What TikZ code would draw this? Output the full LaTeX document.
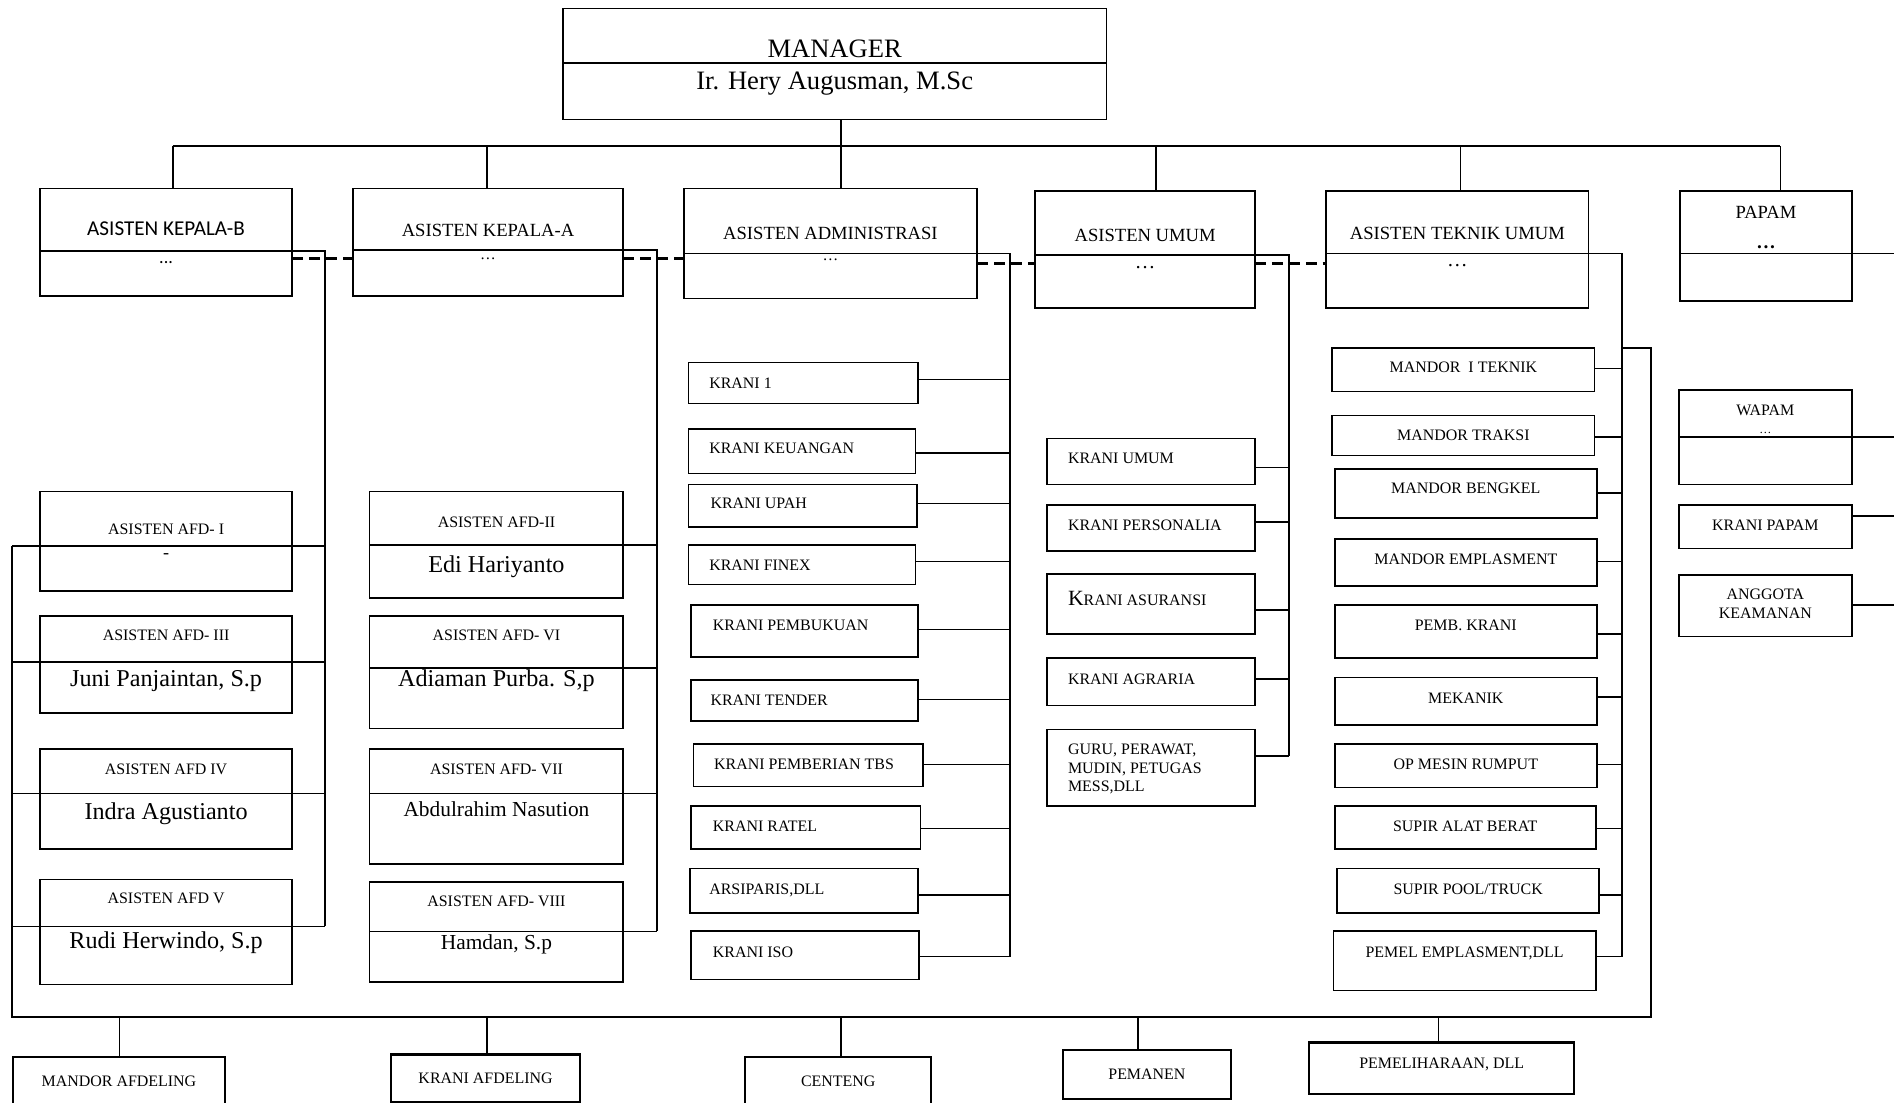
\documentclass[tikz,border=0pt]{standalone}
\usepackage{fontspec}
\setmainfont{Liberation Serif}
\newfontfamily\carlito{Carlito}
\usetikzlibrary{fit}
\newcommand\myfs[1]{\fontsize{#1pt}{#1pt}\selectfont}
\newcommand\mybox[5]{\node[box, fit={(#2,#3)(#4,#5)}] (#1) {};}
\begin{document}
\begin{tikzpicture}[x=1pt,y=-1pt,
 box/.style={draw, line width=1.4pt, inner sep=0pt, outer sep=0pt},
 bbox/.style={box, line width=1.8pt},
 ln/.style={line width=1.3pt},
 dsh/.style={line width=2.6pt, dash pattern=on 9pt off 5pt},
 lb/.style={font=\myfs{#1}, inner sep=0pt, text height={0.66*#1pt}, text depth=0pt},
 lbc/.style={font=\carlito\myfs{#1}, inner sep=0pt, text height={0.64*#1pt}, text depth=0pt},
 dt/.style={font=\myfs{#1}, inner sep=0pt, anchor=base},
]
\useasboundingbox (0,0) rectangle (1568,913);
\fill[white] (0,0) rectangle (1568,913);

% ---------- boxes ----------
\mybox{mgr}{466}{7}{916}{99}
\mybox{akb}{33}{156}{242}{245}
\mybox{aka}{292}{156}{516}{245}
\mybox{adm}{566}{156}{809}{247}
\mybox{aum}{857}{158}{1039}{255}
\mybox{atu}{1098}{158}{1315}{255}
\mybox{pap}{1391}{158}{1533}{249}

\mybox{afd1}{33}{407}{242}{489}
\mybox{afd3}{33}{510}{242}{590}
\mybox{afd4}{33}{620}{242}{703}
\mybox{afd5}{33}{728}{242}{815}
\mybox{afd2}{306}{407}{516}{495}
\mybox{afd6}{306}{510}{516}{603}
\mybox{afd7}{306}{620}{516}{715}
\mybox{afd8}{306}{730}{516}{813}

\mybox{k1}{570}{300}{760}{334}
\mybox{k2}{570}{355}{758}{392}
\mybox{k3}{570}{401}{759}{436}
\mybox{k4}{570}{451}{758}{484}
\mybox{k5}{572}{501}{760}{544}
\mybox{k6}{572}{563}{760}{597}
\mybox{k7}{574}{616}{764}{651}
\mybox{k8}{572}{667}{762}{703}
\mybox{k9}{571}{719}{760}{756}
\mybox{k10}{572}{771}{761}{811}

\mybox{u1}{867}{363}{1039}{401}
\mybox{u2}{867}{418}{1039}{456}
\mybox{u3}{867}{475}{1039}{525}
\mybox{u4}{867}{545}{1039}{584}
\mybox{u5}{867}{604}{1039}{667}

\mybox{m1}{1103}{288}{1320}{324}
\mybox{m2}{1103}{344}{1320}{377}
\mybox{m3}{1105}{388}{1322}{429}
\mybox{m4}{1105}{446}{1322}{485}
\mybox{m5}{1105}{501}{1322}{545}
\mybox{m6}{1105}{561}{1322}{600}
\mybox{m7}{1105}{616}{1322}{652}
\mybox{m8}{1105}{667}{1321}{703}
\mybox{m9}{1107}{719}{1324}{756}
\mybox{m10}{1104}{771}{1321}{820}

\mybox{wap}{1390}{323}{1533}{401}
\mybox{kpp}{1390}{418}{1533}{454}
\mybox{ang}{1390}{476}{1533}{527}

\node[bbox, fit={(11,875)(186,922)}] (b1) {};
\node[bbox, fit={(324,873)(480,912)}] (b2) {};
\node[bbox, fit={(617,875)(771,922)}] (b3) {};
\node[bbox, fit={(880,869)(1019,910)}] (b4) {};
\node[bbox, fit={(1084,863)(1303,906)}] (b5) {};

% ---------- top bus ----------
\coordinate (t1) at (143,121);
\coordinate (t2) at (403,121);
\coordinate (t3) at (696,121);
\coordinate (t4) at (957,121);
\coordinate (t5) at (1209,121);
\coordinate (t6) at (1474,121);
\draw[ln] (mgr.west |- 0,52) -- (mgr.east |- 0,52);
\draw[ln] (t3 |- mgr.south) -- (t3);
\draw[ln] (t1) -- (t6);
\foreach \t/\b in {t1/akb,t2/aka,t3/adm,t4/aum,t5/atu,t6/pap}
  \draw[ln] (\t) -- (\t |- \b.north);

% ---------- spines ----------
\coordinate (sB) at (269,208);
\coordinate (sA) at (544,207);
\coordinate (sD) at (836,210);
\coordinate (sU) at (1067,211);
\coordinate (sT) at (1343,210);
\coordinate (sP) at (1568,210);
\coordinate (sL) at (10,452);
\coordinate (sR) at (1367,288);

\draw[ln] (akb.west |- sB) -- (sB) -- (sB |- 0,767);
\draw[ln] (aka.west |- sA) -- (sA) -- (sA |- 0,771);
\draw[ln] (adm.west |- sD) -- (sD) -- (sD |- 0,792);
\draw[ln] (aum.west |- sU) -- (sU) -- (sU |- 0,626);
\draw[ln] (atu.west |- sT) -- (sT) -- (sT |- 0,792);
\draw[ln] (pap.west |- sP) -- (sP);

% dashed links
\draw[dsh] (akb.east |- 0,214) -- (aka.west |- 0,214);
\draw[dsh] (aka.east |- 0,214) -- (adm.west |- 0,214);
\draw[dsh] (adm.east |- 0,218) -- (aum.west |- 0,218);
\draw[dsh] (aum.east |- 0,218) -- (atu.west |- 0,218);

% left AFD column
\draw[ln] (sL) -- (sB |- sL);
\draw[ln] (sL |- 0,548) -- (sB |- 0,548);
\draw[ln] (sL |- 0,657) -- (sB |- 0,657);
\draw[ln] (sL |- 0,767) -- (sB |- 0,767);
% right AFD column
\draw[ln] (afd2.west |- 0,451) -- (sA |- 0,451);
\draw[ln] (afd6.west |- 0,553) -- (sA |- 0,553);
\draw[ln] (afd7.west |- 0,657) -- (sA |- 0,657);
\draw[ln] (afd8.west |- 0,771) -- (sA |- 0,771);

% admin kranis
\foreach \n/\y in {k1/314,k2/375,k3/417,k4/465,k5/521,k6/579,k7/633,k8/686,k9/741,k10/792}
  \draw[ln] (\n.east |- 0,\y) -- (sD |- 0,\y);
% umum
\foreach \n/\y in {u1/387,u2/432,u3/505,u4/562,u5/626}
  \draw[ln] (\n.east |- 0,\y) -- (sU |- 0,\y);
% teknik
\foreach \n/\y in {m1/305,m2/362,m3/408,m4/465,m5/525,m6/577,m7/633,m8/686,m9/741,m10/792}
  \draw[ln] (\n.east |- 0,\y) -- (sT |- 0,\y);
% papam
\draw[ln] (wap.west |- 0,362) -- (sP |- 0,362);
\draw[ln] (kpp.east |- 0,427) -- (sP |- 0,427);
\draw[ln] (ang.east |- 0,501) -- (sP |- 0,501);

% bottom bus
\draw[ln] (sT |- sR) -- (sR) -- (sR |- 0,842) -- (sL |- 0,842) -- (sL);
\foreach \x/\b in {99/b1,403/b2,696/b3,942/b4,1191/b5}
  \draw[ln] (\x,842) -- (\x,0 |- \b.north);

% ---------- texts ----------
\node[lb=22] at (mgr.center |- 0,40.5) {MANAGER};
\node[lb=22] at (mgr.center |- 0,67) {Ir. Hery Augusman, M.Sc};

\node[lbc=17.5] at (akb.center |- 0,189) {ASISTEN KEPALA-B};
\node[font=\carlito\myfs{15}, inner sep=0pt, anchor=base] at (akb.center |- 0,218) {...};
\node[lb=15.4] at (aka.center |- 0,191) {ASISTEN KEPALA-A};
\node[dt=13] at (aka.center |- 0,215) {…};
\node[lb=15.4] at (adm.center |- 0,193) {ASISTEN ADMINISTRASI};
\node[dt=13] at (adm.center |- 0,216) {…};
\node[lb=15.4] at (aum.center |- 0,195) {ASISTEN UMUM};
\node[dt=17] at (aum.center |- 0,222) {…};
\node[lb=15.4] at (atu.center |- 0,193) {ASISTEN TEKNIK UMUM};
\node[dt=17] at (atu.center |- 0,221) {…};
\node[lb=15.4] at (pap.center |- 0,176) {PAPAM};
\node[inner sep=0pt, anchor=base, font={\myfs{16}\bfseries}] at (pap.center |- 0,206) {…};

\node[lb=13.2] at (afd1.center |- 0,438) {ASISTEN AFD- I};
\node[dt=15] at (afd1.center |- 0,462) {-};
\node[lb=13.2] at (afd3.center |- 0,526) {ASISTEN AFD- III};
\node[lb=20] at (afd3.center |- 0,562) {Juni Panjaintan, S.p};
\node[lb=13.2] at (afd4.center |- 0,637) {ASISTEN AFD IV};
\node[lb=20] at (afd4.center |- 0,672) {Indra Agustianto};
\node[lb=13.2] at (afd5.center |- 0,744) {ASISTEN AFD V};
\node[lb=20] at (afd5.center |- 0,779) {Rudi Herwindo, S.p};

\node[lb=13.2] at (afd2.center |- 0,432) {ASISTEN AFD-II};
\node[lb=20] at (afd2.center |- 0,467) {Edi Hariyanto};
\node[lb=13.2] at (afd6.center |- 0,526) {ASISTEN AFD- VI};
\node[lb=20] at (afd6.center |- 0,562) {Adiaman Purba. S,p};
\node[lb=13.2] at (afd7.center |- 0,637) {ASISTEN AFD- VII};
\node[lb=17.7] at (afd7.center |- 0,670) {Abdulrahim Nasution};
\node[lb=13.2] at (afd8.center |- 0,746) {ASISTEN AFD- VIII};
\node[lb=17.7] at (afd8.center |- 0,780) {Hamdan, S.p};

\foreach \n/\x/\y/\s in {k1/587/317/KRANI 1,k2/587/371/KRANI KEUANGAN,k3/588/417/KRANI UPAH,
  k4/587/468/KRANI FINEX,k5/590/518/KRANI PEMBUKUAN,k6/588/580/KRANI TENDER,
  k7/591/633/KRANI PEMBERIAN TBS,k8/590/684/KRANI RATEL,k9/587/736/{ARSIPARIS,DLL},k10/590/788/KRANI ISO}
  \node[lb=13.2, anchor=west] at (\x,\y) {\s};

\node[lb=13.2, anchor=west] at (884,379) {KRANI UMUM};
\node[lb=13.2, anchor=west] at (884,435) {KRANI PERSONALIA};
\node[lb=13.2, anchor=west] at (884,497) {{\myfs{18}K}RANI ASURANSI};
\node[lb=13.2, anchor=west] at (884,562) {KRANI AGRARIA};
\node[font=\fontsize{13.2pt}{15.5pt}\selectfont, inner sep=0pt, anchor=north west, align=left]
  at (884,615.6) {GURU, PERAWAT,\\MUDIN, PETUGAS\\MESS,DLL};

\foreach \n/\y/\s in {m1/304/{MANDOR\ \ I TEKNIK},m2/360/MANDOR TRAKSI,m3/404/MANDOR BENGKEL,
  m4/463/MANDOR EMPLASMENT,m5/518/PEMB. KRANI,m6/578/MEKANIK,m7/633/OP MESIN RUMPUT,
  m8/684/SUPIR ALAT BERAT,m10/788/{PEMEL EMPLASMENT,DLL}}
  \node[lb=13.2] at (\n.center |- 0,\y) {\s};
\node[lb=13.2] at (m9.center |- 0,736) {SUPIR POOL/TRUCK};

\node[lb=13.2] at (wap.center |- 0,340) {WAPAM};
\node[dt=10] at (wap.center |- 0,359) {…};
\node[lb=13.2] at (kpp.center |- 0,435) {KRANI PAPAM};
\node[lb=13.2] at (ang.center |- 0,492) {ANGGOTA};
\node[lb=13.2] at (ang.center |- 0,508) {KEAMANAN};

\node[lb=13.2] at (b1.center |- 0,895) {MANDOR AFDELING};
\node[lb=13.2] at (b2.center |- 0,893) {KRANI AFDELING};
\node[lb=13.2] at (b3.center |- 0,895) {CENTENG};
\node[lb=13.2] at (b4.center |- 0,889) {PEMANEN};
\node[lb=13.2] at (b5.center |- 0,880) {PEMELIHARAAN, DLL};
\end{tikzpicture}
\end{document}
